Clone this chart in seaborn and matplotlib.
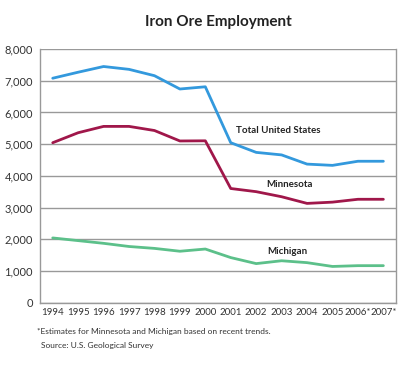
import pandas as pd
import seaborn as sns
import matplotlib.pyplot as plt
from matplotlib.ticker import FuncFormatter

years = ["1994", "1995", "1996", "1997", "1998", "1999", "2000",
         "2001", "2002", "2003", "2004", "2005", "2006*", "2007*"]
total_us = [7080, 7270, 7450, 7360, 7160, 6740, 6810,
            5045, 4740, 4660, 4370, 4330, 4460, 4460]
minnesota = [5045, 5360, 5560, 5560, 5430, 5100, 5105,
             3600, 3500, 3340, 3130, 3170, 3260, 3260]
michigan = [2040, 1955, 1870, 1770, 1710, 1620, 1690,
            1420, 1230, 1320, 1260, 1140, 1165, 1165]

series = {"Total United States": total_us, "Minnesota": minnesota, "Michigan": michigan}
colors = {"Total United States": "#3399dd", "Minnesota": "#a0174a", "Michigan": "#5cc08a"}

rows = []
for name, vals in series.items():
    for i, v in enumerate(vals):
        rows.append({"pos": i, "year": years[i], "series": name, "value": v})
df = pd.DataFrame(rows)

sns.set_theme(style="white")
plt.rcParams["font.family"] = ["Lato", "DejaVu Sans"]

fig = plt.figure(figsize=(4.15, 3.69), dpi=100)
ax = fig.add_axes([0.0964, 0.180, 0.858, 0.687])

sns.lineplot(data=df, x="pos", y="value", hue="series", palette=colors,
             linewidth=2, legend=False, ax=ax)

ax.set_xlim(-0.5, len(years) - 0.5)
ax.set_ylim(0, 8000)
ax.set_yticks(range(0, 8001, 1000))
ax.yaxis.set_major_formatter(FuncFormatter(lambda v, p: f"{int(v):,}"))
ax.grid(axis="y", color="#999999", linewidth=1)
ax.set_axisbelow(True)

ax.set_xticks(range(len(years)))
ax.set_xticklabels(years, fontsize=7, color="#333333")
ax.set_xticks([i + 0.5 for i in range(-1, len(years))], minor=True)
ax.tick_params(axis="x", which="major", length=0, pad=4)
ax.tick_params(axis="x", which="minor", direction="in", length=4, color="#888888", width=1)
ax.tick_params(axis="y", length=0, labelsize=8, colors="#333333", pad=5)

for s in ax.spines.values():
    s.set_color("#999999")
    s.set_linewidth(1)
ax.spines["top"].set_visible(False)

ax.set_xlabel("")
ax.set_ylabel("")

ax.text(7.2, 5350, "Total United States", fontsize=7, fontweight="bold", color="#222222")
ax.text(8.4, 3650, "Minnesota", fontsize=7, fontweight="bold", color="#222222")
ax.text(8.45, 1540, "Michigan", fontsize=7, fontweight="bold", color="#222222")

fig.text(0.525, 0.94, "Iron Ore Employment", ha="center", va="center",
         fontsize=11, fontweight="bold", color="#222222")
fig.text(0.088, 0.095, "*Estimates for Minnesota and Michigan based on recent trends.",
         fontsize=6, color="#333333")
fig.text(0.098, 0.058, "Source: U.S. Geological Survey", fontsize=6, color="#333333")

plt.savefig("out.png", dpi=100)
